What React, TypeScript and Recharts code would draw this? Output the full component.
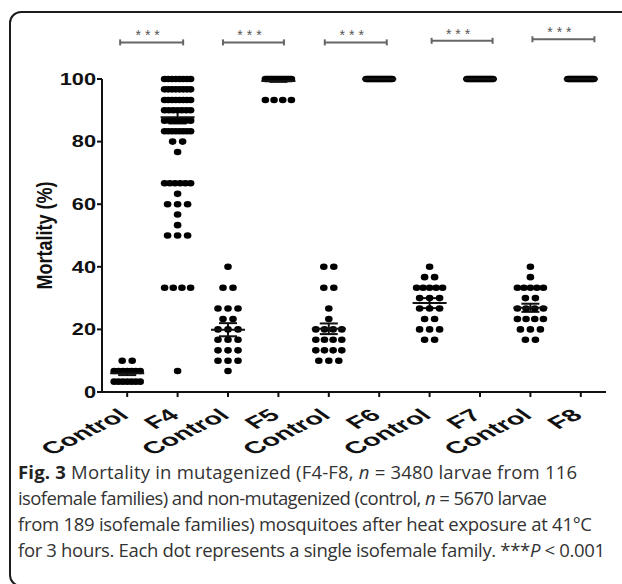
import React from 'react'
import { ComposedChart, Scatter, XAxis, YAxis, ErrorBar, ReferenceLine, Label } from 'recharts'

const GROUPS = ['Control', 'F4', 'Control', 'F5', 'Control', 'F6', 'Control', 'F7', 'Control', 'F8']

// each row: [mortality %, number of isofemale families at that value]
const CONTROL_1 = [[10, 2], [6.7, 7], [3.3, 7]]
const F4 = [
  [100, 8], [96.7, 8], [93.3, 8], [90, 7], [86.7, 6], [83.3, 8], [80, 2], [76.7, 1],
  [66.7, 6], [63.3, 1], [60, 3], [56.7, 1], [53.3, 1], [50, 3], [33.3, 4], [6.7, 1],
]
const CONTROL_2 = [[40, 1], [33.3, 2], [26.7, 3], [23.3, 2], [20, 3], [16.7, 3], [13.3, 3], [10, 3], [6.7, 1]]
const F5 = [[100, 18], [93.3, 4]]
const CONTROL_3 = [[40, 2], [33.3, 2], [26.7, 1], [23.3, 1], [20, 4], [16.7, 4], [13.3, 4], [10, 3]]
const F6 = [[100, 23]]
const CONTROL_4 = [[40, 1], [36.7, 2], [33.3, 5], [30, 3], [26.7, 3], [23.3, 2], [20, 3], [16.7, 2]]
const F7 = [[100, 23]]
const CONTROL_5 = [[40, 1], [36.7, 1], [33.3, 5], [30, 2], [26.7, 4], [23.3, 4], [20, 3], [16.7, 2]]
const F8 = [[100, 23]]

const ROWS = [CONTROL_1, F4, CONTROL_2, F5, CONTROL_3, F6, CONTROL_4, F7, CONTROL_5, F8]

// mean and SEM as drawn
const MEANS = [6, 87.8, 19.9, 99.4, 20.2, 100, 28.4, 100, 26.9, 100]
const SEMS = [0.6, 2, 2.1, 0.3, 1.7, 0, 1.6, 0, 1.3, 0]

const Y_TICKS = [0, 20, 40, 60, 80, 100]

// ***P < 0.001 brackets (category units)
const BRACKETS = [
  { from: -0.14, to: 1.11, y: 111.7 },
  { from: 1.9, to: 3.11, y: 111.7 },
  { from: 3.92, to: 5.15, y: 111.7 },
  { from: 6.04, to: 7.25, y: 112.2 },
  { from: 8.04, to: 9.27, y: 112.7 },
]

const FONT = '"Liberation Sans", Arial, sans-serif'
const INK = '#111'

// dots at the same value are spread sideways, like a Prism dot plot
const dots = ROWS.flatMap((rows, gi) =>
  rows.flatMap(([v, n]) => {
    const gap = n > 1 ? Math.min(10, 26 / (n - 1)) : 0
    const out: { x: number; y: number; dx: number }[] = []
    for (let k = 0; k < n; k++) out.push({ x: gi, y: v, dx: (k - (n - 1) / 2) * gap })
    return out
  })
)

const means = MEANS.map((m, i) => ({ x: i, y: m, sem: SEMS[i] }))

const Dot = (props: any) => (
  <ellipse cx={props.cx + props.payload.dx} cy={props.cy} rx={3.8} ry={3.3} fill="#000" />
)

const MeanLine = (props: any) => (
  <line x1={props.cx - 17} x2={props.cx + 17} y1={props.cy} y2={props.cy} stroke={INK} strokeWidth={2} />
)

const Bracket = (props: any) => {
  const { x1, x2, y1 } = props
  return (
    <g>
      <line x1={x1} x2={x2} y1={y1} y2={y1} stroke="#666" strokeWidth={2} />
      <line x1={x1} x2={x1} y1={y1 - 3} y2={y1 + 3} stroke="#666" strokeWidth={2} />
      <line x1={x2} x2={x2} y1={y1 - 3} y2={y1 + 3} stroke="#666" strokeWidth={2} />
      <text x={(x1 + x2) / 2 - 2} y={y1 - 2} textAnchor="middle" fontFamily={FONT} fontSize={14} fill="#555" letterSpacing={4}>
        ***
      </text>
    </g>
  )
}

const YTick = ({ x, y, payload }: any) => (
  <g transform={`translate(${x},${y}) scale(1.36,1)`}>
    <text textAnchor="end" dy="0.36em" fontFamily={FONT} fontWeight="bold" fontSize={16} fill={INK}>
      {payload.value}
    </text>
  </g>
)

const XTick = ({ x, y, payload }: any) => (
  <g transform={`translate(${x + 3},${y + 18}) scale(1.7,1) rotate(-40)`}>
    <text textAnchor="end" fontFamily={FONT} fontWeight="bold" fontSize={17} fill={INK}>
      {GROUPS[payload.value]}
    </text>
  </g>
)

const YLabel = ({ viewBox }: any) => (
  <g transform={`translate(${viewBox.x + 44},${viewBox.y + viewBox.height / 2}) scale(1.2,1) rotate(-90)`}>
    <text textAnchor="middle" dy="0.36em" fontFamily={FONT} fontWeight="bold" fontSize={18} fill={INK}>
      Mortality (%)
    </text>
  </g>
)

const CAPTION_FONT = '"Open Sans", "Noto Sans", sans-serif'

const Caption = () => (
  <svg width={622} height={584} style={{ position: 'absolute', left: 0, top: 0 }}>
    <g fontFamily={CAPTION_FONT} fontSize={18.5} fill="#333">
      <text x={18} y={479} textLength={559} lengthAdjust="spacing">
        <tspan fontWeight="bold" fill="#222">Fig. 3</tspan> Mortality in mutagenized (F4-F8, <tspan fontStyle="italic">n</tspan> = 3480 larvae from 116
      </text>
      <text x={18} y={505} textLength={529} lengthAdjust="spacing">
        isofemale families) and non-mutagenized (control, <tspan fontStyle="italic">n</tspan> = 5670 larvae
      </text>
      <text x={18} y={531} textLength={574} lengthAdjust="spacing">
        from 189 isofemale families) mosquitoes after heat exposure at 41°C
      </text>
      <text x={18} y={557} textLength={587} lengthAdjust="spacing">
        for 3 hours. Each dot represents a single isofemale family. ***<tspan fontStyle="italic">P</tspan> &lt; 0.001
      </text>
    </g>
  </svg>
)

export default function App() {
  return (
    <div style={{ position: 'absolute', left: 0, top: 0, width: 622, height: 584, overflow: 'hidden', background: '#fff' }}>
      <div
        style={{
          position: 'absolute',
          left: 9,
          top: 11,
          width: 660,
          height: 576,
          border: '2px solid #1c1c1c',
          borderRadius: 12,
          boxSizing: 'border-box',
        }}
      />
      <div style={{ position: 'absolute', left: 0, top: 0 }}>
        <ComposedChart width={622} height={460} margin={{ top: 79, right: 16, bottom: 0, left: 0 }}>
          <XAxis
            type="number"
            dataKey="x"
            domain={[-0.5, 9.5]}
            ticks={[0, 1, 2, 3, 4, 5, 6, 7, 8, 9]}
            height={68}
            tick={<XTick />}
            tickSize={5}
            axisLine={{ stroke: INK, strokeWidth: 2 }}
            tickLine={{ stroke: INK, strokeWidth: 2 }}
            interval={0}
          />
          <YAxis
            type="number"
            dataKey="y"
            domain={[0, 100]}
            ticks={Y_TICKS}
            width={102}
            tick={<YTick />}
            tickSize={5}
            tickMargin={1}
            axisLine={{ stroke: INK, strokeWidth: 2 }}
            tickLine={{ stroke: INK, strokeWidth: 2 }}
          >
            <Label content={<YLabel />} />
          </YAxis>
          <Scatter data={dots} shape={<Dot />} isAnimationActive={false} />
          <Scatter data={means} shape={<MeanLine />} isAnimationActive={false}>
            <ErrorBar dataKey="sem" direction="y" width={9} stroke={INK} strokeWidth={2} />
          </Scatter>
          {BRACKETS.map((b, i) => (
            <ReferenceLine
              key={i}
              segment={[{ x: b.from, y: b.y }, { x: b.to, y: b.y }]}
              ifOverflow="visible"
              shape={<Bracket />}
            />
          ))}
        </ComposedChart>
      </div>
      <Caption />
    </div>
  )
}
